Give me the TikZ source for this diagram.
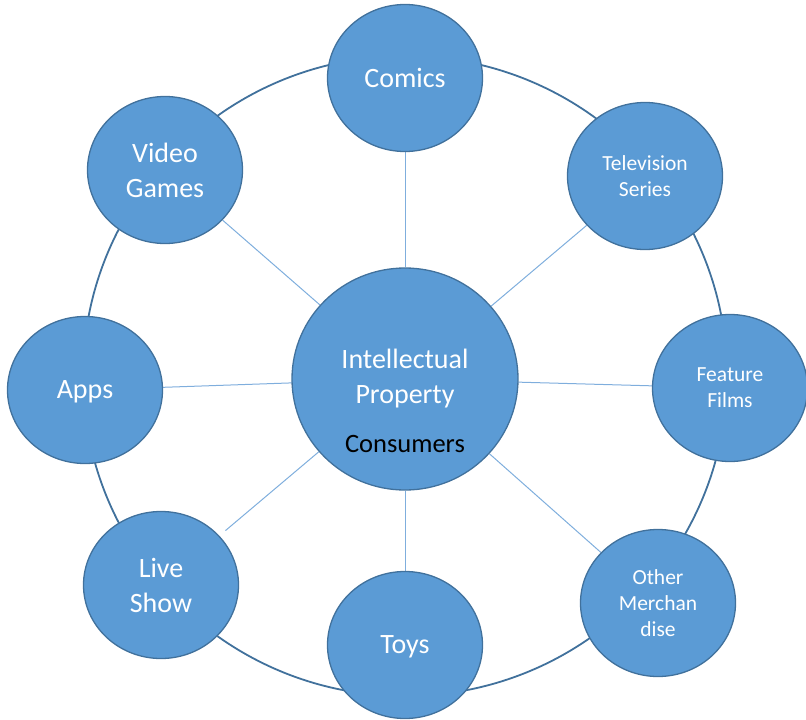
\documentclass[tikz,border=0pt]{standalone}
\usepackage{fontspec}
\setmainfont{Carlito}
\usetikzlibrary{shapes.geometric,backgrounds}
\definecolor{fillblue}{HTML}{5B9BD5}
\definecolor{edgeblue}{HTML}{41719C}
\definecolor{spokeblue}{HTML}{7FAEDD}
\begin{document}
\begin{tikzpicture}[x=1pt,y=-1pt,
  bubble/.style={ellipse, draw=edgeblue, line width=1.3pt, fill=fillblue, text=white,
    inner sep=0pt, minimum width=155pt, minimum height=147pt, align=center},
  bigtxt/.style={font=\fontsize{28}{35}\selectfont},
  smalltxt/.style={font=\fontsize{21.5}{26}\selectfont},
  spoke/.style={draw=spokeblue, line width=1pt},
  ringline/.style={draw=edgeblue, line width=1.8pt}]
\useasboundingbox (0,0) rectangle (806,720);
\coordinate (ringc) at (405,376);
\node[bubble, minimum width=226pt, minimum height=222pt, bigtxt] (ip) at (405,379) {Intellectual\\Property};
\node[font=\fontsize{26.5}{30}\selectfont, anchor=base, text=black, inner sep=0pt] (cons) at (405,452) {Consumers};
\node[bubble, bigtxt] (comics) at (405,78) {Comics};
\node[bubble, smalltxt] (tv) at (645,176) {Television\\Series};
\node[bubble, smalltxt] (films) at (730,388) {Feature\\Films};
\node[bubble, smalltxt] (merch) at (658,603) {Other\\Merchan\\dise};
\node[bubble, bigtxt, text depth=0pt] (toys) at (405,645) {Toys};
\node[bubble, bigtxt] (live) at (161,585) {Live\\Show};
\node[bubble, bigtxt, text depth=0pt] (apps) at (85,390) {Apps};
\node[bubble, bigtxt] (games) at (165,170) {Video\\Games};
\begin{scope}[on background layer]
  \draw[ringline] (ringc) ellipse [x radius=322pt, y radius=320pt];
  \draw[spoke] (ip) -- (comics);
  \draw[spoke] (ip) -- (tv);
  \draw[spoke] (ip) -- (films);
  \draw[spoke] (ip) -- (merch);
  \draw[spoke] (ip) -- (toys);
  \draw[spoke, shorten >=8pt] (ip) -- (live);
  \draw[spoke] (ip) -- (apps);
  \draw[spoke] (ip) -- (games);
\end{scope}
\end{tikzpicture}
\end{document}
